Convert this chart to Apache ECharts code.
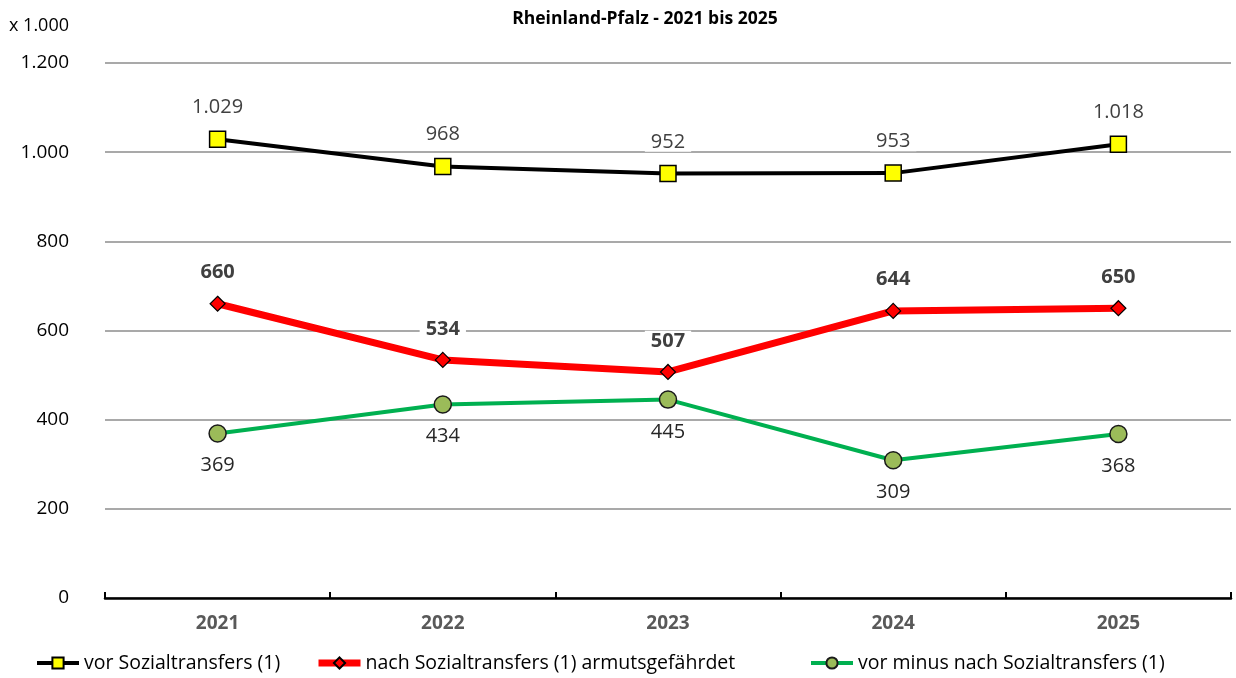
<!DOCTYPE html>
<html>
<head>
<meta charset="utf-8">
<script src="https://cdn.jsdelivr.net/npm/echarts@6/dist/echarts.min.js"></script>
<style>
  html, body { margin: 0; padding: 0; background: #fff; }
  #chart { width: 1236px; height: 678px; }
</style>
</head>
<body>
<div id="chart"></div>
<script>
const years = ['2021', '2022', '2023', '2024', '2025'];
const vorTransfers = [1029, 968, 952, 953, 1018];
const nachTransfers = [660, 534, 507, 644, 650];
const differenz = [369, 434, 445, 309, 368];
const seriesNames = [
  'vor Sozialtransfers (1)',
  'nach Sozialtransfers (1) armutsgefährdet',
  'vor minus nach Sozialtransfers (1)'
];

const font = '"Open Sans", "Liberation Sans", sans-serif';

// deutsche Tausenderpunkte
function fmt(v) {
  return String(v).replace(/\B(?=(\d{3})+(?!\d))/g, '.');
}

function lbl(pos, bold, color) {
  return {
    show: true,
    position: pos,
    distance: 13,
    fontFamily: font,
    fontSize: 20,
    fontWeight: bold ? 'bold' : 'normal',
    color: color,
    backgroundColor: '#fff',
    padding: [0, 6],
    formatter: p => fmt(p.value)
  };
}

function legendAt(left, name, lw) {
  return {
    data: [name],
    left: left,
    bottom: 0,
    itemWidth: 42,
    itemHeight: 14,
    itemGap: 6,
    lineStyle: { width: lw },
    textStyle: { fontFamily: font, fontSize: 19.5, color: '#000' },
    selectedMode: false
  };
}

const chart = echarts.init(document.getElementById('chart'));
chart.setOption({
  animation: false,
  title: {
    text: 'Rheinland-Pfalz - 2021 bis 2025',
    left: 640,
    textAlign: 'center',
    top: 5,
    textStyle: { fontFamily: font, fontSize: 17.5, fontWeight: 'bold', color: '#000' }
  },
  graphic: [{
    type: 'text',
    left: 9,
    top: 17,
    style: { text: 'x 1.000', fontFamily: font, fontSize: 18, fill: '#000' }
  }],
  legend: [
    legendAt(30, seriesNames[0], 4),
    legendAt(310, seriesNames[1], 7),
    legendAt(804, seriesNames[2], 4)
  ],
  grid: { left: 105, right: 5, top: 63, bottom: 80 },
  xAxis: {
    type: 'category',
    data: years,
    boundaryGap: true,
    axisLine: { lineStyle: { color: '#000', width: 2.5 } },
    axisTick: { show: true, inside: true, length: 6, lineStyle: { color: '#000', width: 2 } },
    axisLabel: { margin: 16, fontFamily: font, fontSize: 19, fontWeight: 'bold', color: '#595959' }
  },
  yAxis: {
    type: 'value',
    min: 0,
    max: 1200,
    interval: 200,
    axisLine: { show: false },
    axisTick: { show: false },
    axisLabel: { margin: 36, fontFamily: font, fontSize: 19, color: '#000', formatter: fmt },
    splitLine: { lineStyle: { color: '#8c8c8c', width: 1.5 } }
  },
  series: [
    {
      name: seriesNames[0],
      type: 'line',
      data: vorTransfers,
      symbol: 'rect',
      symbolSize: 16,
      lineStyle: { color: '#000', width: 4 },
      itemStyle: { color: '#ffff00', borderColor: '#000', borderWidth: 1.5 },
      label: lbl('top', false, '#404040'),
      z: 4
    },
    {
      name: seriesNames[1],
      type: 'line',
      data: nachTransfers,
      symbol: 'diamond',
      symbolSize: 15,
      lineStyle: { color: '#ff0000', width: 7 },
      itemStyle: { color: '#ff0000', borderColor: '#000', borderWidth: 1.2 },
      label: lbl('top', true, '#404040'),
      z: 3
    },
    {
      name: seriesNames[2],
      type: 'line',
      data: differenz,
      symbol: 'circle',
      symbolSize: 17,
      lineStyle: { color: '#00b050', width: 4 },
      itemStyle: { color: '#9bbb59', borderColor: '#1a1a1a', borderWidth: 1.5 },
      label: lbl('bottom', false, '#262626'),
      z: 2
    }
  ]
});
</script>
</body>
</html>
